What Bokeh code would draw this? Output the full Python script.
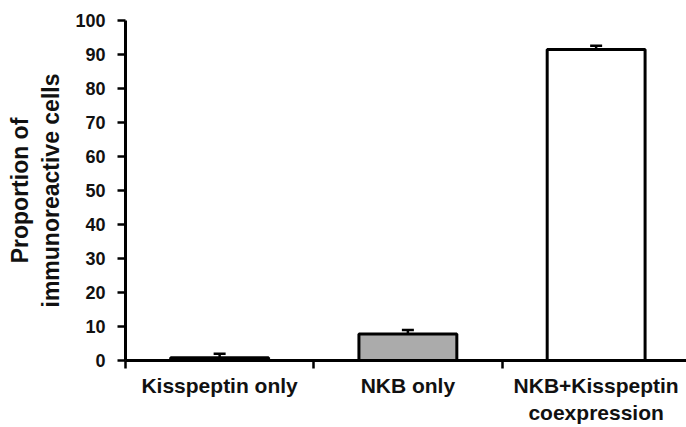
import numpy as np
from bokeh.plotting import figure
from bokeh.models import ColumnDataSource, Range1d, FixedTicker, Whisker, TeeHead
from bokeh.embed import file_html
from bokeh.resources import INLINE

# Data
categories = ["Kisspeptin only", "NKB only", "NKB+Kisspeptin\ncoexpression"]
positions = [0.5, 1.5, 2.5]
means = [0.8, 7.8, 91.5]
errors = [1.2, 1.2, 1.1]
fill_colors = ["#000000", "#ababab", "#ffffff"]
y_ticks = [0, 10, 20, 30, 40, 50, 60, 70, 80, 90, 100]

lower = list(np.maximum(np.array(means) - np.array(errors), 0))
upper = list(np.array(means) + np.array(errors))

src = ColumnDataSource(dict(x=positions, top=means, color=fill_colors,
                            lower=lower, upper=upper))

p = figure(width=686, height=427, output_backend="svg", toolbar_location=None,
           x_range=Range1d(0, 2.98), y_range=Range1d(0, 100),
           min_border_left=125, min_border_right=0, min_border_top=20,
           min_border_bottom=67)
p.outline_line_color = None
p.xgrid.visible = False
p.ygrid.visible = False

p.vbar(x="x", top="top", bottom=0, width=0.52, fill_color="color",
       line_color="black", line_width=3, source=src)

w = Whisker(base="x", lower="lower", upper="upper", source=src,
            line_width=2.5, line_color="black",
            upper_head=TeeHead(size=12, line_width=2.5, line_color="black"),
            lower_head=TeeHead(size=12, line_width=2.5, line_color="black"))
p.add_layout(w)

font = "Liberation Sans"
txt_color = "#111111"

# Y axis
ya = p.yaxis[0]
ya.ticker = FixedTicker(ticks=y_ticks)
ya.axis_line_width = 3
ya.major_tick_line_width = 2.5
ya.major_tick_out = 8
ya.major_tick_in = 0
ya.minor_tick_line_color = None
ya.major_label_text_font = font
ya.major_label_text_font_style = "bold"
ya.major_label_text_font_size = "18px"
ya.major_label_text_color = txt_color
ya.major_label_standoff = 12
ya.axis_label = "Proportion of\nimmunoreactive cells"
ya.axis_label_text_font = font
ya.axis_label_text_font_style = "bold"
ya.axis_label_text_font_size = "23px"
ya.axis_label_text_color = txt_color
ya.axis_label_standoff = 8

# X axis
xa = p.xaxis[0]
xa.ticker = FixedTicker(ticks=positions, minor_ticks=[0, 1, 2, 3])
xa.major_label_overrides = {pos: lab for pos, lab in zip(positions, categories)}
xa.axis_line_width = 3
xa.major_tick_out = 0
xa.major_tick_in = 0
xa.minor_tick_out = 8
xa.minor_tick_in = 0
xa.minor_tick_line_width = 2.5
xa.minor_tick_line_color = "black"
xa.major_label_text_font = font
xa.major_label_text_font_style = "bold"
xa.major_label_text_font_size = "21px"
xa.major_label_text_color = txt_color
xa.major_label_standoff = 5
xa.major_label_text_line_height = 1.2

open("out.html", "w").write(file_html(p, INLINE))
